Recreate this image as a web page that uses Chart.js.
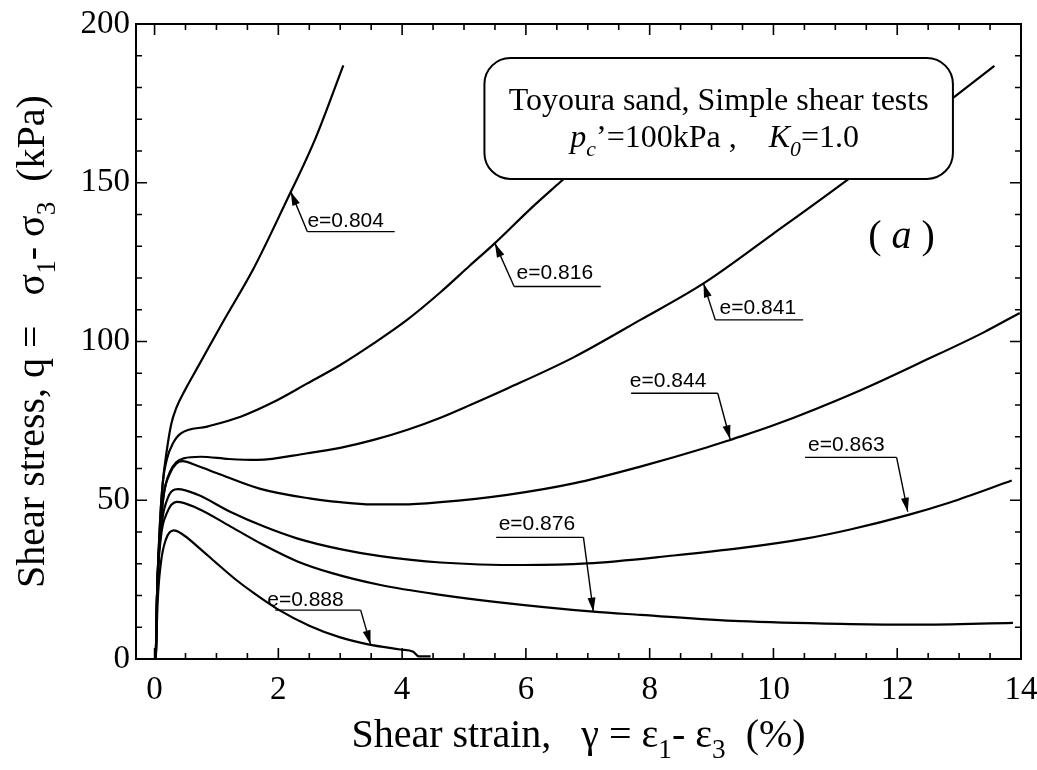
<!DOCTYPE html>
<html><head><meta charset="utf-8">
<script src="https://cdn.jsdelivr.net/npm/chart.js@4.4.1/dist/chart.umd.min.js"></script>
<style>html,body{margin:0;padding:0;background:#fff;overflow:hidden}</style>
</head><body>
<canvas id="c" width="1037" height="770" style="width:1037px;height:770px;display:block"></canvas>
<script>
// ---- tick labels ----
const xTicks = [0, 2, 4, 6, 8, 10, 12, 14];
const yTicks = [0, 50, 100, 150, 200];
const xMinorStep = 0.5;
const yMinorStep = 10;

// ---- series (shear strain %, shear stress kPa) ----
const names = ['e=0.804', 'e=0.816', 'e=0.841', 'e=0.844', 'e=0.863', 'e=0.876', 'e=0.888'];
const e804X = [0.02,0.04,0.08,0.13,0.2,0.27,0.35,0.5,0.7,1.1,1.6,2.1,2.6,3.05];
const e804Y = [0,20,40,55,66,74,79,85,92,106,123,143,164,187];
const e816X = [0.02,0.04,0.08,0.13,0.2,0.3,0.42,0.85,1.39,1.93,2.47,3.0,3.54,4.08,4.62,5.1,5.5,6.07,6.56,7.0,7.5,8.0,8.5];
const e816Y = [0,20,40,55,63,68,71,73.2,76.3,81.0,86.8,92.6,99.4,106.8,115.5,124,131,141.7,150.3,158,167,177,186];
const e841X = [0.02,0.04,0.09,0.15,0.25,0.35,0.47,0.74,1.2,1.66,2.47,3.0,3.54,4.1,4.62,5.1,5.7,6.77,7.85,8.87,10.0,11.2,12.0,12.96,13.57];
const e841Y = [0,20,40,52,59,62,63.2,63.7,63,62.7,64.8,66.5,69,72.3,76,80,85.2,95,106.8,118.3,134,151,163,177.6,186.8];
const e844X = [0.02,0.04,0.09,0.15,0.25,0.35,0.45,0.7,1.0,1.71,2.5,3.0,3.5,4.0,4.62,5.7,6.77,7.85,8.92,9.3,10.0,11.4,12.4,13.39,13.98];
const e844Y = [0,20,40,52,58.5,61.5,62.3,60.8,58.6,53.6,50.6,49.4,48.7,48.7,49.4,51.7,55.3,60.6,66.6,69.0,73.6,84.6,93.6,102.8,109];
const e863X = [0.02,0.04,0.1,0.2,0.38,0.69,1.23,1.77,2.3,3.0,3.65,4.62,5.96,6.99,8.39,9.46,10.54,11.24,12.18,12.85,13.85];
const e863Y = [0,20,40,50,53.5,51.8,46.3,41.7,38,34.6,32.4,30.4,29.6,30.1,32.6,34.9,38,40.8,45.4,49.3,56.2];
const e876X = [0.02,0.04,0.1,0.2,0.36,0.69,1.23,1.77,2.3,2.84,3.65,4.62,5.5,7.09,7.85,9.46,11.24,12.3,13.87];
const e876Y = [0,20,38,46,49.5,47.5,41.7,35.8,30.8,27.2,23.3,20.2,18,14.9,13.9,11.9,11.0,10.8,11.4];
const e888X = [0.02,0.05,0.1,0.18,0.31,0.45,0.69,1.0,1.3,1.6,1.98,2.5,3.0,3.45,3.97,4.18,4.27,4.46];
const e888Y = [0,18,30,37.5,40.5,39.3,35.5,30.2,25.2,20.8,15.8,10.5,6.8,4.6,3.0,2.3,0.8,0.8];

const seriesX = [e804X, e816X, e841X, e844X, e863X, e876X, e888X];
const seriesY = [e804Y, e816Y, e841Y, e844Y, e863Y, e876Y, e888Y];

// ---- annotation placement (data coords) ----
const labelSpecs = [
  {i:0, tx:2.47, ty:136.1, u1:2.47, u2:3.88, uy:134.6, from:'l', tipX:2.2,  tipY:147.2},
  {i:1, tx:5.85, ty:119.6, u1:5.81, u2:7.21, uy:117.3, from:'l', tipX:5.5,  tipY:130.9},
  {i:2, tx:9.13, ty:108.7, u1:9.06, u2:10.48,uy:106.8, from:'l', tipX:8.87, tipY:118.3},
  {i:3, tx:7.68, ty:85.8,  u1:7.70, u2:9.10, uy:83.7,  from:'r', tipX:9.3,  tipY:69.2},
  {i:4, tx:10.56,ty:65.5,  u1:10.51,u2:11.99,uy:63.5,  from:'r', tipX:12.17,tipY:46.4},
  {i:5, tx:5.56, ty:40.6,  u1:5.52, u2:6.93, uy:38.3,  from:'r', tipX:7.09, tipY:14.9},
  {i:6, tx:1.82, ty:16.7,  u1:1.95, u2:3.33, uy:15.4,  from:'r', tipX:3.49, tipY:4.6}
];
const boxSpec = {x1:5.33, x2:12.9, y1:189.3, y2:151.2, r:26};
const boxLine1 = 'Toyoura sand, Simple shear tests';
const panelTag = 'a';

const SERIF = "'Liberation Serif','Times New Roman',serif";
const SANS = "'Liberation Sans',Arial,sans-serif";

function drawRich(ctx, parts, size, cx, y) {
  const fonts = parts.map(p => (p.it ? 'italic ' : '') + (p.sub ? size*0.68 : size) + 'px ' + SERIF);
  let total = 0;
  const widths = parts.map((p, k) => { ctx.font = fonts[k]; const w = ctx.measureText(p.t).width; total += w; return w; });
  let x = cx - total / 2;
  ctx.textAlign = 'left';
  ctx.textBaseline = 'alphabetic';
  parts.forEach((p, k) => {
    ctx.font = fonts[k];
    ctx.fillText(p.t, x, y + (p.sub ? size * 0.27 : 0));
    x += widths[k];
  });
}

function arrowLine(ctx, x1, y1, x2, y2) {
  ctx.beginPath(); ctx.moveTo(x1, y1); ctx.lineTo(x2, y2); ctx.stroke();
  const a = Math.atan2(y2 - y1, x2 - x1), L = 14, W = 4;
  ctx.beginPath();
  ctx.moveTo(x2, y2);
  ctx.lineTo(x2 - L*Math.cos(a) + W*Math.sin(a), y2 - L*Math.sin(a) - W*Math.cos(a));
  ctx.lineTo(x2 - L*Math.cos(a) - W*Math.sin(a), y2 - L*Math.sin(a) + W*Math.cos(a));
  ctx.closePath(); ctx.fill();
}

const decor = {
  id: 'decor',
  afterDatasetsDraw(chart) {
    const ctx = chart.ctx, xs = chart.scales.x, ys = chart.scales.y, ca = chart.chartArea;
    const X = v => xs.getPixelForValue(v), Y = v => ys.getPixelForValue(v);
    ctx.save();
    ctx.strokeStyle = '#000'; ctx.fillStyle = '#000';
    // frame
    ctx.lineWidth = 2;
    ctx.strokeRect(ca.left, ca.top, ca.right - ca.left, ca.bottom - ca.top);
    // inward ticks
    ctx.lineWidth = 1.6;
    ctx.beginPath();
    for (let v = Math.ceil(xs.min / xMinorStep) * xMinorStep; v <= xs.max + 1e-9; v += xMinorStep) {
      const major = xTicks.some(t => Math.abs(t - v) < 1e-6);
      const L = major ? 11 : 6, px = X(v);
      ctx.moveTo(px, ca.bottom); ctx.lineTo(px, ca.bottom - L);
      ctx.moveTo(px, ca.top); ctx.lineTo(px, ca.top + L);
    }
    for (let v = ys.min; v <= ys.max + 1e-9; v += yMinorStep) {
      const major = yTicks.some(t => Math.abs(t - v) < 1e-6);
      const L = major ? 11 : 6, py = Y(v);
      ctx.moveTo(ca.left, py); ctx.lineTo(ca.left + L, py);
      ctx.moveTo(ca.right, py); ctx.lineTo(ca.right - L, py);
    }
    ctx.stroke();

    // info box (opaque)
    const bx1 = X(boxSpec.x1), bx2 = X(boxSpec.x2), by1 = Y(boxSpec.y1), by2 = Y(boxSpec.y2);
    ctx.beginPath();
    ctx.roundRect(bx1, by1, bx2 - bx1, by2 - by1, boxSpec.r);
    ctx.fillStyle = '#fff'; ctx.fill();
    ctx.lineWidth = 2; ctx.strokeStyle = '#000'; ctx.stroke();
    ctx.fillStyle = '#000';
    const bcx = (bx1 + bx2) / 2;
    drawRich(ctx, [{t: boxLine1}], 32, bcx, by1 + 52);
    drawRich(ctx, [{t:'p', it:true}, {t:'c', it:true, sub:true}, {t:'\u2019=100kPa ,    '}, {t:'K', it:true}, {t:'0', it:true, sub:true}, {t:'=1.0'}], 32, bcx - 4, by1 + 89);

    // panel tag
    drawRich(ctx, [{t:'( '}, {t: panelTag, it:true}, {t:' )'}], 40, X(12.07), Y(129.4));

    // curve labels
    ctx.lineWidth = 1.4;
    labelSpecs.forEach(s => {
      ctx.font = '21px ' + SANS; ctx.textAlign = 'left'; ctx.textBaseline = 'alphabetic';
      ctx.fillText(names[s.i], X(s.tx), Y(s.ty));
      ctx.beginPath(); ctx.moveTo(X(s.u1), Y(s.uy)); ctx.lineTo(X(s.u2), Y(s.uy)); ctx.stroke();
      const sx = s.from === 'l' ? X(s.u1) : X(s.u2);
      arrowLine(ctx, sx, Y(s.uy), X(s.tipX), Y(s.tipY));
    });

    // axis titles
    const acx = (ca.left + ca.right) / 2;
    drawRich(ctx, [{t:'Shear strain,   \u03b3 = \u03b5'}, {t:'1', sub:true}, {t:'- \u03b5'}, {t:'3', sub:true}, {t:'  (%)'}], 40, acx, 747);
    ctx.save();
    ctx.translate(44, (ca.top + ca.bottom) / 2);
    ctx.rotate(-Math.PI / 2);
    drawRich(ctx, [{t:'Shear stress, q =   \u03c3'}, {t:'1', sub:true}, {t:'- \u03c3'}, {t:'3', sub:true}, {t:'  (kPa)'}], 40, 0, 0);
    ctx.restore();
    ctx.restore();
  }
};

const datasets = names.map((n, k) => ({
  label: n,
  data: seriesX[k].map((x, j) => ({x, y: seriesY[k][j]})),
  borderColor: '#000',
  borderWidth: 2.2,
  pointRadius: 0,
  fill: false,
  cubicInterpolationMode: 'monotone'
}));

new Chart(document.getElementById('c'), {
  type: 'line',
  data: {datasets},
  options: {
    responsive: false,
    animation: false,
    devicePixelRatio: 1,
    layout: {padding: {top: 24, right: 16, left: 0, bottom: 0}},
    plugins: {legend: {display: false}, tooltip: {enabled: false}},
    scales: {
      x: {
        type: 'linear', min: -0.3, max: 14,
        afterBuildTicks: a => { a.ticks = xTicks.map(v => ({value: v})); },
        afterFit: s => { s.height = 111; s.paddingLeft = 0; s.paddingRight = 0; },
        grid: {display: false, drawTicks: false},
        border: {display: false},
        ticks: {color: '#000', font: {family: SERIF, size: 33}, padding: 12, maxRotation: 0, autoSkip: false}
      },
      y: {
        type: 'linear', min: 0, max: 200,
        afterBuildTicks: a => { a.ticks = yTicks.map(v => ({value: v})); },
        afterFit: s => { s.width = 136; s.paddingTop = 0; s.paddingBottom = 0; },
        grid: {display: false, drawTicks: false},
        border: {display: false},
        ticks: {color: '#000', font: {family: SERIF, size: 33}, padding: 6}
      }
    }
  },
  plugins: [decor]
});
</script>
</body></html>
